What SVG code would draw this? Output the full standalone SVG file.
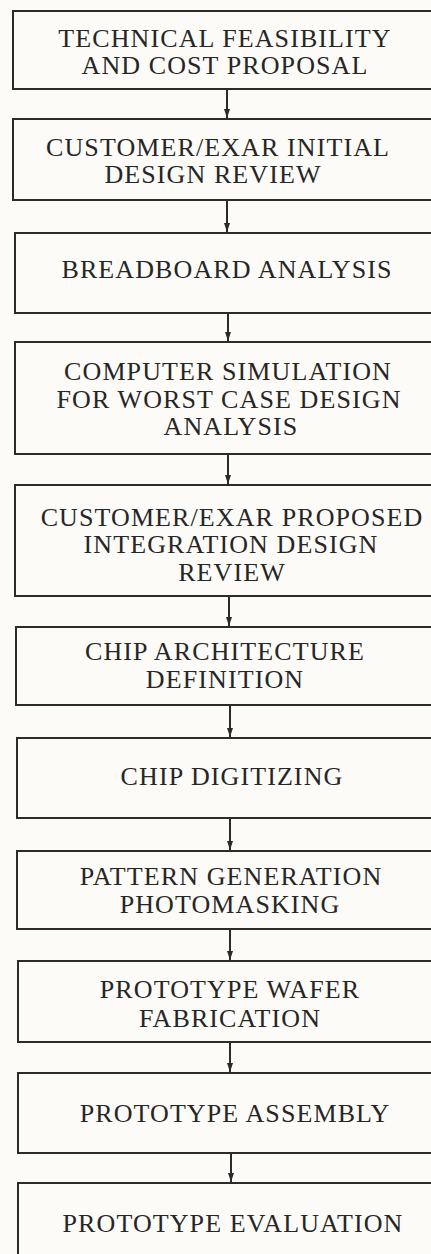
<svg xmlns="http://www.w3.org/2000/svg" width="431" height="1254" viewBox="0 0 431 1254">
<defs>
<marker id="ah" markerUnits="userSpaceOnUse" markerWidth="10" markerHeight="8" refX="9" refY="3.5" orient="auto">
<path d="M0,0.5 L9,3.5 L0,6.5 z" fill="#2a2a2a"/>
</marker>
<style>
.box{fill:none;stroke:#2b2b2b;stroke-width:2}
.t{font-family:"Liberation Serif","Times New Roman",serif;font-size:26px;letter-spacing:1.1px;fill:#262626;text-anchor:middle}
.c{stroke:#2b2b2b;stroke-width:2;fill:none;marker-end:url(#ah)}
</style>
</defs>
<rect width="431" height="1254" fill="#fcfbf8"/>
<g id="connectors">
<line class="c" x1="227" y1="89" x2="227" y2="118"/>
<line class="c" x1="227" y1="200" x2="227" y2="232"/>
<line class="c" x1="228" y1="313" x2="228" y2="341"/>
<line class="c" x1="228" y1="454" x2="228" y2="484"/>
<line class="c" x1="229" y1="596" x2="229" y2="626"/>
<line class="c" x1="230" y1="705" x2="230" y2="737"/>
<line class="c" x1="230" y1="818" x2="230" y2="850"/>
<line class="c" x1="230" y1="929" x2="230" y2="960"/>
<line class="c" x1="230" y1="1042" x2="230" y2="1072"/>
<line class="c" x1="231" y1="1153" x2="231" y2="1182"/>
</g>
<g id="n1"><rect class="box" x="13" y="11" width="440" height="78"/>
<text class="t" x="225" y="47">TECHNICAL FEASIBILITY</text>
<text class="t" x="225" y="74">AND COST PROPOSAL</text></g>
<g id="n2"><rect class="box" x="13" y="119" width="440" height="81"/>
<text class="t" x="218" y="156">CUSTOMER/EXAR INITIAL</text>
<text class="t" x="213" y="183">DESIGN REVIEW</text></g>
<g id="n3"><rect class="box" x="15" y="233" width="440" height="80"/>
<text class="t" x="227" y="278">BREADBOARD ANALYSIS</text></g>
<g id="n4"><rect class="box" x="15" y="342" width="440" height="112"/>
<text class="t" x="228" y="380">COMPUTER SIMULATION</text>
<text class="t" x="229" y="408">FOR WORST CASE DESIGN</text>
<text class="t" x="231" y="435">ANALYSIS</text></g>
<g id="n5"><rect class="box" x="15" y="485" width="440" height="111"/>
<text class="t" x="232" y="526">CUSTOMER/EXAR PROPOSED</text>
<text class="t" x="231" y="553">INTEGRATION DESIGN</text>
<text class="t" x="232" y="581">REVIEW</text></g>
<g id="n6"><rect class="box" x="16" y="627" width="440" height="78"/>
<text class="t" x="225" y="660">CHIP ARCHITECTURE</text>
<text class="t" x="225" y="688">DEFINITION</text></g>
<g id="n7"><rect class="box" x="17" y="738" width="440" height="80"/>
<text class="t" x="232" y="785">CHIP DIGITIZING</text></g>
<g id="n8"><rect class="box" x="17" y="851" width="440" height="78"/>
<text class="t" x="231" y="885">PATTERN GENERATION</text>
<text class="t" x="230" y="913">PHOTOMASKING</text></g>
<g id="n9"><rect class="box" x="18" y="961" width="440" height="81"/>
<text class="t" x="230" y="998">PROTOTYPE WAFER</text>
<text class="t" x="230" y="1027">FABRICATION</text></g>
<g id="n10"><rect class="box" x="18" y="1073" width="440" height="80"/>
<text class="t" x="235" y="1122">PROTOTYPE ASSEMBLY</text></g>
<g id="n11"><rect class="box" x="18" y="1183" width="440" height="100"/>
<text class="t" x="233" y="1232">PROTOTYPE EVALUATION</text></g>
</svg>
